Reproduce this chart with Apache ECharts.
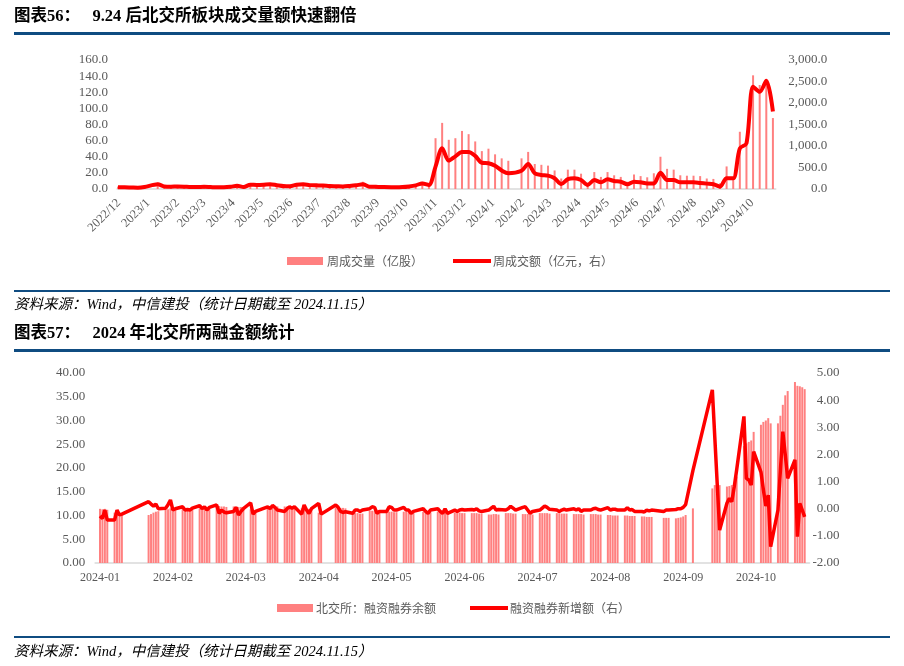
<!DOCTYPE html>
<html><head><meta charset="utf-8">
<script src="https://cdn.jsdelivr.net/npm/echarts@6/dist/echarts.min.js"></script>
<style>html,body{margin:0;padding:0;background:#fff}#c{width:904px;height:666px}</style>
</head><body><div id="c"></div>
<script>
// ---------- Chart 1 (weekly, Fridays from 2022-12-23; null = holiday week) ----------
const c1FirstFriday = [2022, 12, 23];
const c1TickLabels = ['2022/12','2023/1','2023/2','2023/3','2023/4','2023/5','2023/6','2023/7','2023/8','2023/9','2023/10','2023/11','2023/12','2024/1','2024/2','2024/3','2024/4','2024/5','2024/6','2024/7','2024/8','2024/9','2024/10'];
const c1Volume = [3,3,2.5,2,3,null,8,4,4,4, 4,3,3,3.5,3,3,3,3.5,5,3, 6,6,6.5,7,6,5,4.5,6.5,7,6, 5.5,5,4.5,4.5,4,5,6,9,4,3.5,
  3,null,3,3,4,6,9,6,63,82, 61,63,72,68,59,47,50,43,38,35, null,38,46,31,30,29,23,13,24,24, 19,8,21,15,21,17,15,9,18,16,
  14.5,19.5,40,25,24,17,16.5,16.5,16,13, 12.5,7,28,14,71,55,141,129,133,88];
const c1Turnover = [40,40,35,30,45,null,110,60,55,60, 55,45,45,50,45,40,40,50,75,45, 100,95,100,110,90,70,65,100,110,90,
  85,80,70,65,60,70,85,110,55,50, 45,null,40,45,60,85,130,95,520,945, 660,760,860,860,770,610,600,540,430,365,
  null,425,580,365,325,310,250,115,230,250, 210,95,210,155,225,185,170,110,170,155, 130,130,380,210,210,155,155,155,140,125,
  110,55,250,250,945,1060,2380,2260,2520,1800];

// ---------- Chart 2 (trading days 2024-01-30 .. 2024-11-15) ----------
const c2Holidays = ['2024-02-09','2024-02-12','2024-02-13','2024-02-14','2024-02-15','2024-02-16','2024-04-04','2024-04-05',
  '2024-05-01','2024-05-02','2024-05-03','2024-06-10','2024-09-16','2024-09-17','2024-10-01','2024-10-02','2024-10-03','2024-10-04','2024-10-07'];
const c2TickLabels = ['2024-01','2024-02','2024-03','2024-04','2024-05','2024-06','2024-07','2024-08','2024-09','2024-10'];
const c2Balance = [
  11.4,11.3,11.4,11.2, 10.6,10.5,10.4,10.3, 10.1,10.3,10.6,10.8,10.9, 11.2,11.3,11.5,11.4,11.4, 11.5,11.5,11.4,11.5,11.5,
  11.5,11.4,11.4,11.3,11.4, 12.0,12.0,11.9,11.9,11.8, 11.9,11.9,11.8,11.8,11.8, 11.3,11.2,11.1, 11.9,11.9,11.9,12.0,11.9,
  11.9,11.9,11.8,11.9,11.9, 11.5,11.5,11.4,11.4,11.3, 10.6,10.5, 11.7,11.7,11.6,11.6,11.5, 10.6,10.5,10.5,10.4,10.4,
  11.0,11.0,11.0,10.9,10.9, 10.8,10.8,10.8,10.7,10.7, 10.8,10.8,10.8,10.7,10.7, 10.8,10.8,10.7,10.7, 10.8,10.8,10.7,10.7,10.7,
  10.6,10.6,10.6,10.5,10.5, 10.5,10.5,10.5,10.4,10.4, 10.2,10.2,10.3,10.3,10.2, 10.5,10.5,10.5,10.4,10.4, 10.3,10.3,10.3,10.2,10.2,
  10.5,10.5,10.5,10.5,10.4, 10.5,10.5,10.4,10.4,10.4, 10.3,10.3,10.3,10.3,10.2, 10.3,10.3,10.3,10.2,10.2, 10.1,10.1,10.0,10.0,10.0,
  10.0,10.0,9.9,9.9,9.9, 9.8,9.8,9.7,9.7,9.7, 9.5,9.5,9.5, 9.4,9.5,9.6,9.8,10.1, 11.5,
  15.7,16.4,16.0,16.4, 16.1,16.2,16.4,16.8,18.2, 24.6,25.2,25.5,25.8,27.6, 29.1,29.7,30.0,30.5,29.4, 29.4,31.0,33.3,35.3,36.2,
  38.1,37.3,37.2,37.0,36.6];
const c2Change = [
  -0.27,-0.36,-0.05,-0.42, -0.42,-0.05,-0.23,-0.2, 0.26,0.17,0.1,0.17,0.0, 0.02,0.15,0.32,-0.05,0.0, 0.07,-0.05,-0.03,-0.05,0.02,
  0.11,0.0,0.07,-0.05,0.05, 0.14,-0.17,-0.05,-0.12,-0.15, -0.1,0.05,-0.23,-0.1,0.0, 0.22,-0.2,-0.1, 0.07,0.0,0.12,0.05,-0.05,
  -0.1,0.0,0.07,0.02,0.07, -0.2,0.14,-0.05,-0.17,0.0, 0.2,-0.2, 0.14,0.05,-0.1,-0.14,-0.11, -0.17,-0.05,-0.05,-0.1,-0.05,
  0.0,0.07,0.05,-0.17,-0.1, -0.1,0.07,0.05,-0.05,-0.05, 0.05,-0.05,-0.05,-0.17,-0.1, 0.0,-0.1,-0.17,-0.05, 0.0,-0.1,-0.17,0.0,-0.17,
  -0.05,-0.1,-0.05,-0.03,-0.05, -0.03,-0.05,0.0,-0.08,-0.1, -0.05,0.02,0.09,-0.05,-0.03, -0.05,0.0,0.09,0.02,-0.05, 0.05,0.07,-0.05,-0.17,-0.1,
  -0.05,0.02,0.1,0.05,-0.02, -0.05,-0.1,-0.05,-0.02,-0.05, 0.0,-0.05,0.0,-0.1,-0.05, -0.05,0.0,0.02,-0.03,-0.05, 0.04,-0.05,-0.02,-0.02,-0.05,
  -0.05,0.04,-0.05,-0.03,-0.1, -0.1,-0.12,-0.05,-0.08,-0.05, -0.1,-0.05,-0.05, -0.03,0.0,0.0,0.05,0.15, 1.4,
  4.38,2.65,0.93,-0.79, 0.2,0.38,0.26,0.8,1.43, 3.4,1.12,1.06,0.87,2.1, 1.35,0.7,0.1,0.5,-1.4, -0.05,1.4,2.84,2.0,1.12,
  1.8,-1.03,0.2,-0.05,-0.3];

// ---------- helpers ----------
function ts(y, m, d) { return new Date(y, m - 1, d).getTime(); }
function pad(n) { return (n < 10 ? '0' : '') + n; }
const DAY = 86400000;

const c1Dates = c1Volume.map((_, k) => ts(c1FirstFriday[0], c1FirstFriday[1], c1FirstFriday[2] + 7 * k));
const c1Ticks = c1TickLabels.map(s => { const p = s.split('/'); return ts(+p[0], +p[1], 24); });

const c2Dates = [];
for (let t = ts(2024, 1, 30); t <= ts(2024, 11, 15) + 3600000; t += DAY) {
  const d = new Date(t);
  const key = d.getFullYear() + '-' + pad(d.getMonth() + 1) + '-' + pad(d.getDate());
  const wd = d.getDay();
  if (wd === 0 || wd === 6 || c2Holidays.indexOf(key) >= 0) continue;
  c2Dates.push(new Date(d.getFullYear(), d.getMonth(), d.getDate()).getTime());
}
const c2Ticks = c2TickLabels.map((s, i) => ts(2024, 1, 30 + 30 * i));

const serif = '"Liberation Serif","Times New Roman",serif';
const cjk = '"Noto Sans CJK SC","Liberation Sans",sans-serif';
const titleFont = '"Liberation Serif","Noto Sans CJK SC",serif';
const grey = '#595959';
const blue = '#0f4c81';

const chart = echarts.init(document.getElementById('c'), null, { renderer: 'canvas', width: 904, height: 666 });

const axisY = (gi, pos, min, max, itv, fmt, margin, size, align) => ({
  type: 'value', gridIndex: gi, position: pos, min: min, max: max, interval: itv,
  axisLine: { show: false }, axisTick: { show: false }, splitLine: { show: false },
  axisLabel: { color: grey, fontFamily: serif, fontSize: size, margin: margin, formatter: fmt, align: align }
});
const nearest = (arr, v) => { let b = -1, bd = 1e15; arr.forEach((a, i) => { const d = Math.abs(a - v); if (d < bd) { bd = d; b = i; } }); return bd < DAY ? b : -1; };

const option = {
  animation: false,
  backgroundColor: '#fff',
  grid: [
    { left: 117.05, top: 60, width: 658.7, height: 129 },
    { left: 95.14, top: 373, width: 714.4, height: 190 }
  ],
  xAxis: [
    { type: 'value', gridIndex: 0, min: ts(2022, 12, 22), max: ts(2024, 11, 18), scale: true,
      axisLine: { onZero: false, lineStyle: { color: '#d9d9d9', width: 1.5 } }, axisTick: { show: false }, splitLine: { show: false },
      axisLabel: { customValues: c1Ticks, rotate: 45, color: grey, fontFamily: serif, fontSize: 12.5, margin: 12,
        formatter: v => { const i = nearest(c1Ticks, v); return i >= 0 ? c1TickLabels[i] : ''; } } },
    { type: 'value', gridIndex: 1, min: ts(2024, 1, 28), max: ts(2024, 11, 17), scale: true,
      axisLine: { onZero: false, lineStyle: { color: '#d9d9d9', width: 1.5 } }, axisTick: { show: false }, splitLine: { show: false },
      axisLabel: { customValues: c2Ticks, color: grey, fontFamily: serif, fontSize: 12, margin: 9,
        formatter: v => { const i = nearest(c2Ticks, v); return i >= 0 ? c2TickLabels[i] : ''; } } }
  ],
  yAxis: [
    axisY(0, 'left', 0, 160, 20, v => v.toFixed(1), 9, 13, 'right'),
    axisY(0, 'right', 0, 3000, 500, v => v.toLocaleString('en-US', { minimumFractionDigits: 1, maximumFractionDigits: 1 }), 51.5, 13, 'right'),
    axisY(1, 'left', 0, 40, 5, v => v.toFixed(2), 10, 13, 'right'),
    axisY(1, 'right', -2, 5, 1, v => v.toFixed(2), 30, 13, 'right')
  ],
  series: [
    { name: '周成交量（亿股）', type: 'bar', xAxisIndex: 0, yAxisIndex: 0, barWidth: 2,
      itemStyle: { color: '#FF8080' }, data: c1Dates.map((t, i) => [t, c1Volume[i]]) },
    { name: '周成交额（亿元，右）', type: 'line', xAxisIndex: 0, yAxisIndex: 1, smooth: 0.3, symbol: 'none', connectNulls: true,
      lineStyle: { color: '#FF0000', width: 4 }, data: c1Dates.map((t, i) => [t, c1Turnover[i]]) },
    { name: '北交所：融资融券余额', type: 'bar', xAxisIndex: 1, yAxisIndex: 2, barWidth: 2,
      itemStyle: { color: '#FF8080' }, data: c2Dates.map((t, i) => [t, c2Balance[i]]) },
    { name: '融资融券新增额（右）', type: 'line', xAxisIndex: 1, yAxisIndex: 3, symbol: 'none',
      lineStyle: { color: '#FF0000', width: 3.5 }, data: c2Dates.map((t, i) => [t, c2Change[i]]) }
  ],
  graphic: [
    { type: 'text', x: 14, y: 17, style: { text: '图表56：   9.24 后北交所板块成交量额快速翻倍', fill: '#000', font: 'bold 16.5px ' + titleFont, textVerticalAlign: 'middle' } },
    { type: 'rect', shape: { x: 14, y: 32, width: 876, height: 3 }, style: { fill: blue } },
    { type: 'rect', shape: { x: 287, y: 257, width: 36, height: 8 }, style: { fill: '#FF8080' } },
    { type: 'text', x: 327, y: 261, style: { text: '周成交量（亿股）', fill: grey, font: '12px ' + cjk, textVerticalAlign: 'middle' } },
    { type: 'rect', shape: { x: 453, y: 259, width: 38, height: 4 }, style: { fill: '#FF0000' } },
    { type: 'text', x: 493, y: 261, style: { text: '周成交额（亿元，右）', fill: grey, font: '12px ' + cjk, textVerticalAlign: 'middle' } },
    { type: 'rect', shape: { x: 14, y: 290, width: 876, height: 2 }, style: { fill: blue } },
    { type: 'text', x: 14, y: 305, style: { text: '资料来源：Wind，中信建投（统计日期截至 2024.11.15）', fill: '#000', font: 'italic 14.5px ' + titleFont, textVerticalAlign: 'middle' } },
    { type: 'text', x: 14, y: 334, style: { text: '图表57：   2024 年北交所两融金额统计', fill: '#000', font: 'bold 16.5px ' + titleFont, textVerticalAlign: 'middle' } },
    { type: 'rect', shape: { x: 14, y: 349, width: 876, height: 3 }, style: { fill: blue } },
    { type: 'rect', shape: { x: 277, y: 604, width: 36, height: 8 }, style: { fill: '#FF8080' } },
    { type: 'text', x: 316, y: 608, style: { text: '北交所：融资融券余额', fill: grey, font: '12px ' + cjk, textVerticalAlign: 'middle' } },
    { type: 'rect', shape: { x: 470, y: 606, width: 38, height: 4 }, style: { fill: '#FF0000' } },
    { type: 'text', x: 510, y: 608, style: { text: '融资融券新增额（右）', fill: grey, font: '12px ' + cjk, textVerticalAlign: 'middle' } },
    { type: 'rect', shape: { x: 14, y: 636, width: 876, height: 2 }, style: { fill: blue } },
    { type: 'text', x: 14, y: 652, style: { text: '资料来源：Wind，中信建投（统计日期截至 2024.11.15）', fill: '#000', font: 'italic 14.5px ' + titleFont, textVerticalAlign: 'middle' } }
  ]
};
chart.setOption(option);
</script>
</body></html>
